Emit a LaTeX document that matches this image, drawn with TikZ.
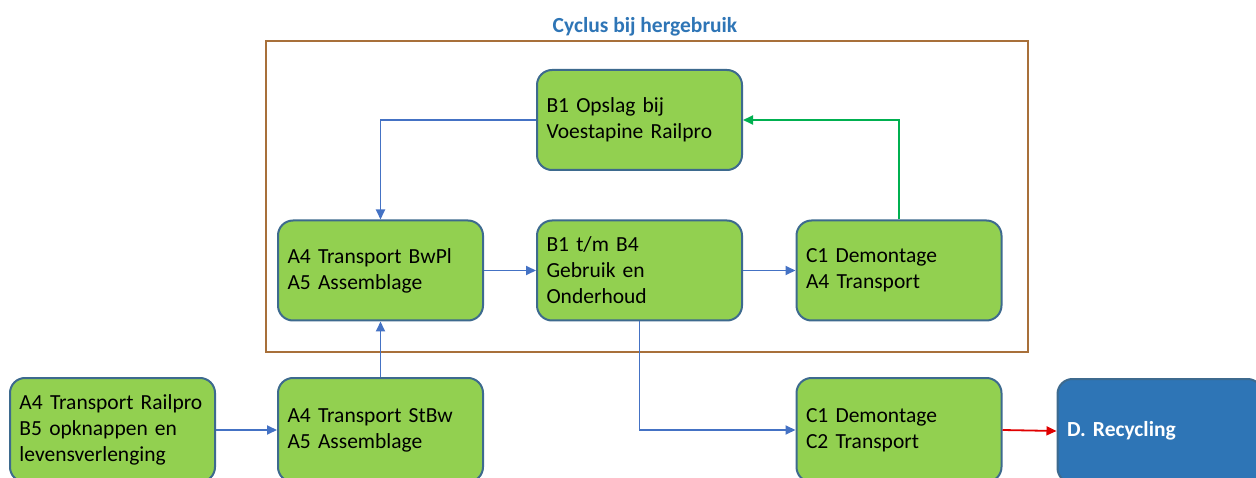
\documentclass[tikz,border=0pt]{standalone}
\usepackage{fontspec}
\setmainfont{Carlito}
\usetikzlibrary{arrows.meta}
\definecolor{boxgreen}{HTML}{92D050}
\definecolor{boxedge}{HTML}{3D6A8E}
\definecolor{boxblue}{HTML}{2E75B6}
\definecolor{flowblue}{HTML}{4472C4}
\definecolor{flowgreen}{HTML}{00B050}
\definecolor{flowred}{HTML}{E00000}
\definecolor{framebrown}{HTML}{A8703A}
\newcommand{\boxfont}{\fontsize{21.5}{26}\selectfont\spaceskip=0.17em\relax}
\tikzset{
    phase/.style={draw=boxedge, line width=2pt, fill=boxgreen, rounded corners=15pt,
        text width=186pt, inner xsep=9.5pt, minimum height=100pt, align=left,
        font=\boxfont},
    lowphase/.style={phase, minimum height=104pt},
    endphase/.style={lowphase, fill=boxblue, text=white, font=\boxfont\bfseries},
    flow/.style={line width=1.8pt, -{Triangle[length=10pt,width=9pt]}}
}
\begin{document}
\begin{tikzpicture}[x=1pt, y=-1pt]
    \useasboundingbox (0,0) rectangle (1256,478);

    % Frame round the reuse cycle
    \draw[framebrown, line width=2pt] (266,41) rectangle (1028,352);
    \node[text=boxblue, font=\fontsize{21.5}{24}\selectfont\bfseries] (title) at (645,27) {Cyclus bij hergebruik};

    % Phases inside the cycle
    \node[phase] (opslag) at (639.5,120) {B1 Opslag bij\\Voestapine Railpro};
    \node[phase] (bwpl) at (380.5,270.5) {A4 Transport BwPl\\A5 Assemblage};
    \node[phase] (gebruik) at (639.5,270.5) {B1 t/m B4\\Gebruik en\\Onderhoud};
    \node[phase] (demtrans) at (899,270.5) {C1 Demontage\\A4 Transport};

    % Phases outside the cycle
    \node[lowphase] (railpro) at (112.5,430) {A4 Transport Railpro\\B5 opknappen en\\levensverlenging};
    \node[lowphase] (stbw) at (380.5,430) {A4 Transport StBw\\A5 Assemblage};
    \node[lowphase] (demafvoer) at (899,430) {C1 Demontage\\C2 Transport};
    \node[endphase] (recycling) at (1160,431) {D. Recycling};

    % Flows
    \draw[flow, flowblue] (railpro.east) -- (stbw.west);
    \draw[flow, flowblue] (stbw.north) -- (bwpl.south);
    \draw[flow, flowblue] (bwpl.east) -- (gebruik.west);
    \draw[flow, flowblue] (gebruik.east) -- (demtrans.west);
    \draw[flow, flowblue] (opslag.west) -| (bwpl.north);
    \draw[flow, flowgreen] (demtrans.north) |- (opslag.east);
    \draw[flow, flowblue] (gebruik.south) |- (demafvoer.west);
    \draw[flow, flowred] (demafvoer.east) -- (recycling.west);
\end{tikzpicture}
\end{document}
